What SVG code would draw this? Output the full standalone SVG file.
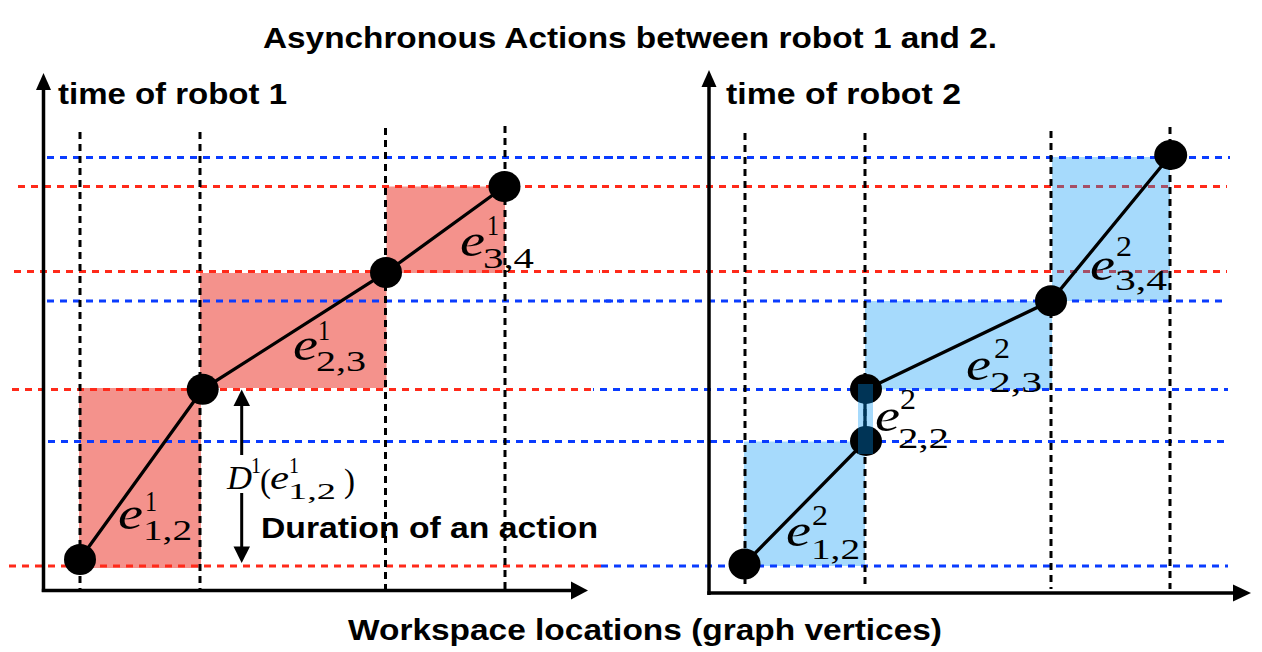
<svg xmlns="http://www.w3.org/2000/svg" width="1262" height="652" viewBox="0 0 1262 652">
<style>
.bold{font-family:"Liberation Sans",Arial,Helvetica,sans-serif;font-weight:bold;fill:#000}
.mi{font-family:"Liberation Serif","Times New Roman",serif;font-style:italic;fill:#000}
.mr{font-family:"Liberation Serif","Times New Roman",serif;fill:#000}
.sc{font-family:"Liberation Serif","Times New Roman",serif;fill:#000;font-size:29px}
.ee{font-family:"Liberation Serif","Times New Roman",serif;font-style:italic;fill:#000;font-size:47px}
.red{stroke:#ff2a1a;stroke-width:3;stroke-dasharray:7 6;fill:none}
.blue{stroke:#0a3cff;stroke-width:3;stroke-dasharray:7 6;fill:none}
.vd{stroke:#000;stroke-width:3;stroke-dasharray:7 5;fill:none}
.ax{stroke:#000;stroke-width:3.5;fill:none}
.edge{stroke:#000;stroke-width:3.3;fill:none}
.rrect{fill:#f4928c}
.brect{fill:#0096f5;fill-opacity:0.35}
.node{fill:#000}
</style>

<text class="bold" x="263" y="48" font-size="29" textLength="734" lengthAdjust="spacingAndGlyphs">Asynchronous Actions between robot 1 and 2.</text>

<!-- LEFT PLOT -->
<g id="left-fills">
<rect class="rrect" x="79" y="388" width="122" height="180"/>
<rect class="rrect" x="200" y="273" width="186.5" height="115"/>
<rect class="rrect" x="386.5" y="186.5" width="118.5" height="86.5"/>
</g>
<g id="left-grid">
<line class="red" x1="18" y1="186.5" x2="600" y2="186.5"/>
<line class="red" x1="14" y1="271.5" x2="600" y2="271.5"/>
<line class="red" x1="12" y1="389.5" x2="594" y2="389.5"/>
<line class="red" x1="9" y1="566" x2="601" y2="566"/>
<line class="blue" x1="47" y1="157.5" x2="622" y2="157.5"/>
<line class="blue" x1="47" y1="301" x2="622" y2="301"/>
<line class="blue" x1="48" y1="441.5" x2="622" y2="441.5"/>
<line class="vd" x1="80" y1="132" x2="80" y2="589"/>
<line class="vd" x1="200" y1="132" x2="200" y2="589"/>
<line class="vd" x1="385.5" y1="128" x2="385.5" y2="589"/>
<line class="vd" x1="505" y1="126" x2="505" y2="589"/>
</g>

<!-- RIGHT PLOT -->
<g id="right-grid">
<line class="red" x1="602" y1="186.5" x2="1227" y2="186.5"/>
<line class="red" x1="602" y1="271.5" x2="1227" y2="271.5"/>
<line class="red" x1="600" y1="389.5" x2="1227" y2="389.5"/>
</g>
<g id="right-fills">
<rect class="brect" x="744" y="441.5" width="121" height="124.5"/>
<rect class="brect" x="865" y="301" width="187" height="88.5"/>
<rect class="brect" x="1052" y="157" width="118" height="144"/>
</g>
<g id="right-grid2">
<line class="blue" x1="604" y1="157.5" x2="1230" y2="157.5"/>
<line class="blue" x1="604" y1="301" x2="1228" y2="301"/>
<line class="blue" x1="593" y1="389.5" x2="1228" y2="389.5" stroke-dashoffset="6"/>
<line class="blue" x1="606" y1="441.5" x2="1230" y2="441.5"/>
<line class="blue" x1="601" y1="566" x2="1228" y2="566"/>
<line class="vd" x1="745" y1="133" x2="745" y2="589"/>
<line class="vd" x1="865" y1="133" x2="865" y2="589"/>
<line class="vd" x1="1051" y1="131" x2="1051" y2="589"/>
<line class="vd" x1="1170" y1="127" x2="1170" y2="589"/>
</g>

<!-- AXES -->
<g id="axes">
<line class="ax" x1="43.5" y1="88" x2="43.5" y2="592"/>
<polygon points="43.5,73 36,90 51,90"/>
<line class="ax" x1="41.8" y1="590.5" x2="573" y2="590.5"/>
<polygon points="588,590.5 571,581.5 571,599.5"/>
<line class="ax" x1="709" y1="85" x2="709" y2="595"/>
<polygon points="709,70 701.5,87 716.5,87"/>
<line class="ax" x1="707.3" y1="593" x2="1235" y2="593"/>
<polygon points="1251,593 1233,584.5 1233,601.5"/>
</g>
<text class="bold" x="58" y="104" font-size="30" textLength="229" lengthAdjust="spacingAndGlyphs">time of robot 1</text>
<text class="bold" x="726" y="104" font-size="30" textLength="235" lengthAdjust="spacingAndGlyphs">time of robot 2</text>
<text class="bold" x="348" y="640" font-size="30" textLength="594" lengthAdjust="spacingAndGlyphs">Workspace locations (graph vertices)</text>

<!-- CONNECTORS -->
<g id="connectors">
<polyline class="edge" points="80,559 202.7,389.3 386,272.5 504.5,186.5"/>
<polyline class="edge" points="744.5,564 865,441.5 865,390 1051,300.8 1170.7,155"/>
</g>

<!-- NODES -->
<g id="node-r1-v1"><ellipse class="node" cx="80" cy="559.5" rx="16" ry="15.5"/></g>
<g id="node-r1-v2"><ellipse class="node" cx="202.7" cy="389.3" rx="16" ry="15.5"/></g>
<g id="node-r1-v3"><ellipse class="node" cx="386" cy="272.5" rx="16" ry="15.5"/></g>
<g id="node-r1-v4"><ellipse class="node" cx="504.5" cy="186.5" rx="16" ry="15.5"/></g>
<g id="node-r2-v1"><ellipse class="node" cx="744.5" cy="564" rx="16" ry="15.5"/></g>
<g id="node-r2-v2a"><ellipse class="node" cx="866" cy="441" rx="16" ry="15"/></g>
<g id="node-r2-v2b"><ellipse class="node" cx="866" cy="389" rx="16" ry="15"/></g>
<g id="node-r2-v3"><ellipse class="node" cx="1051" cy="300.8" rx="16" ry="15.5"/></g>
<g id="node-r2-v4"><ellipse class="node" cx="1170.7" cy="155" rx="16.5" ry="15"/></g>

<rect class="brect" x="858" y="384" width="15" height="70"/>

<!-- DURATION ARROW -->
<g id="duration">
<line x1="241.7" y1="403" x2="241.7" y2="455" stroke="#000" stroke-width="3"/>
<line x1="241.7" y1="493" x2="241.7" y2="549" stroke="#000" stroke-width="3"/>
<polygon points="241.7,389.5 233.5,406 250,406"/>
<polygon points="241.7,563 233.5,546.5 250,546.5"/>
<text class="mi" x="227" y="489" font-size="34" textLength="25" lengthAdjust="spacingAndGlyphs">D</text>
<text class="mr" x="251" y="473" font-size="23" textLength="10" lengthAdjust="spacingAndGlyphs">1</text>
<text class="mr" x="260" y="492" font-size="34" textLength="11" lengthAdjust="spacingAndGlyphs">(</text>
<text class="mi" x="270" y="489" font-size="34" textLength="19" lengthAdjust="spacingAndGlyphs">e</text>
<text class="mr" x="289" y="473" font-size="23" textLength="10" lengthAdjust="spacingAndGlyphs">1</text>
<text class="mr" x="288" y="499" font-size="23" textLength="48" lengthAdjust="spacingAndGlyphs">1,2</text>
<text class="mr" x="344" y="492" font-size="34" textLength="11" lengthAdjust="spacingAndGlyphs">)</text>
<text class="bold" x="261" y="538" font-size="30" textLength="337" lengthAdjust="spacingAndGlyphs">Duration of an action</text>
</g>

<!-- EDGE LABELS -->
<g id="label-e1-12">
<text class="ee" x="118" y="529" textLength="25" lengthAdjust="spacingAndGlyphs">e</text>
<text class="sc" x="145" y="511" textLength="12" lengthAdjust="spacingAndGlyphs">1</text>
<text class="sc" x="143" y="540" textLength="49" lengthAdjust="spacingAndGlyphs">1,2</text>
</g>
<g id="label-e1-23">
<text class="ee" x="293" y="360" textLength="25" lengthAdjust="spacingAndGlyphs">e</text>
<text class="sc" x="318" y="340" textLength="12" lengthAdjust="spacingAndGlyphs">1</text>
<text class="sc" x="316" y="371" textLength="50" lengthAdjust="spacingAndGlyphs">2,3</text>
</g>
<g id="label-e1-34">
<text class="ee" x="460" y="256" textLength="25" lengthAdjust="spacingAndGlyphs">e</text>
<text class="sc" x="487" y="235" textLength="12" lengthAdjust="spacingAndGlyphs">1</text>
<text class="sc" x="483" y="268" textLength="51" lengthAdjust="spacingAndGlyphs">3,4</text>
</g>
<g id="label-e2-12">
<text class="ee" x="786" y="546" textLength="25" lengthAdjust="spacingAndGlyphs">e</text>
<text class="sc" x="812" y="525" textLength="16" lengthAdjust="spacingAndGlyphs">2</text>
<text class="sc" x="811" y="559" textLength="49" lengthAdjust="spacingAndGlyphs">1,2</text>
</g>
<g id="label-e2-22">
<text class="ee" x="875" y="431" textLength="25" lengthAdjust="spacingAndGlyphs">e</text>
<text class="sc" x="900" y="409" textLength="16" lengthAdjust="spacingAndGlyphs">2</text>
<text class="sc" x="898" y="448" textLength="51" lengthAdjust="spacingAndGlyphs">2,2</text>
</g>
<g id="label-e2-23">
<text class="ee" x="966" y="380" textLength="25" lengthAdjust="spacingAndGlyphs">e</text>
<text class="sc" x="994" y="358" textLength="16" lengthAdjust="spacingAndGlyphs">2</text>
<text class="sc" x="990" y="392" textLength="52" lengthAdjust="spacingAndGlyphs">2,3</text>
</g>
<g id="label-e2-34">
<text class="ee" x="1090" y="280" textLength="25" lengthAdjust="spacingAndGlyphs">e</text>
<text class="sc" x="1116" y="256" textLength="16" lengthAdjust="spacingAndGlyphs">2</text>
<text class="sc" x="1115" y="290" textLength="52" lengthAdjust="spacingAndGlyphs">3,4</text>
</g>
</svg>
